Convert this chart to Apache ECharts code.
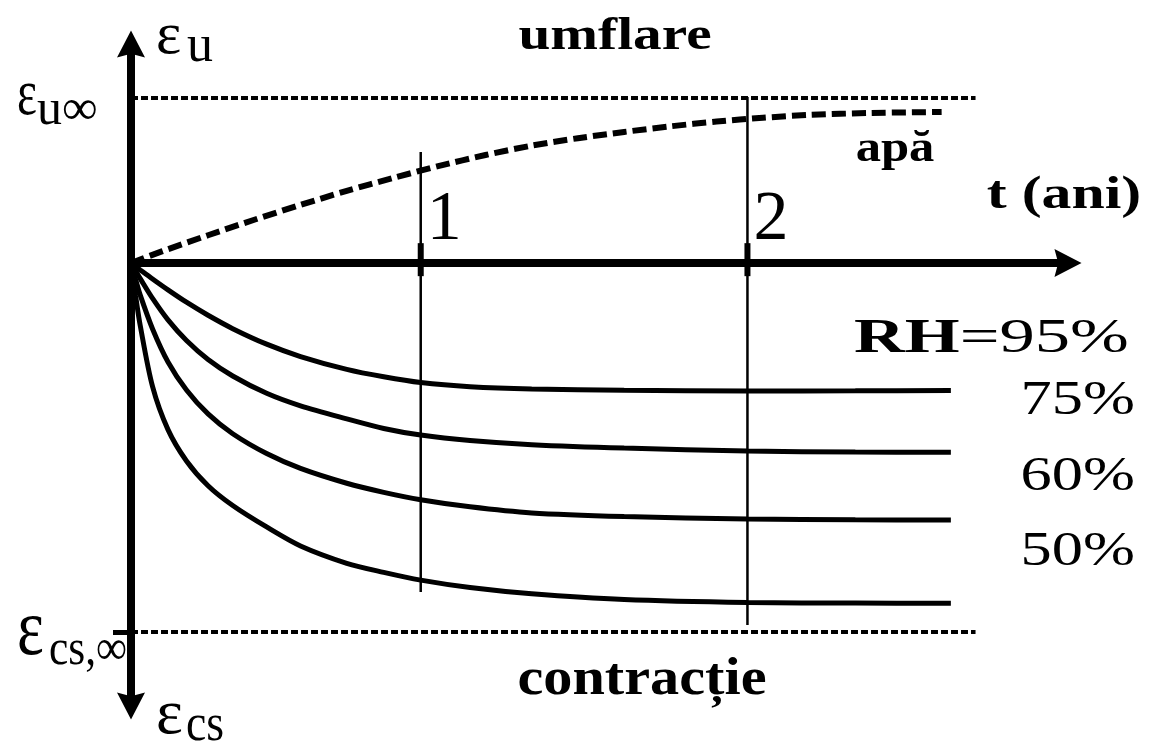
<!DOCTYPE html>
<html>
<head>
<meta charset="utf-8">
<script src="https://cdn.jsdelivr.net/npm/echarts@6/dist/echarts.min.js"></script>
<style>
  html, body { margin: 0; padding: 0; background: #fff; }
  #chart { width: 1153px; height: 747px; }
</style>
</head>
<body>
<div id="chart"></div>
<script>
// Time in years; strain normalised so that the swelling limit εu∞ equals 1.
// Shrinkage curves (contracție) sampled on a common time grid.
const shrinkT = [0, 0.015, 0.03, 0.07, 0.12, 0.18, 0.25, 0.33, 0.44, 0.55, 0.7, 0.82, 0.94, 1.1, 1.3, 1.6, 2.0, 2.35, 2.66];
const rh95 = [0, -0.021, -0.042, -0.097, -0.163, -0.238, -0.317, -0.398, -0.492, -0.567, -0.645, -0.690, -0.725, -0.750, -0.764, -0.772, -0.776, -0.775, -0.773];
const rh75 = [0, -0.048, -0.095, -0.215, -0.345, -0.470, -0.585, -0.685, -0.790, -0.866, -0.945, -1.003, -1.043, -1.076, -1.101, -1.122, -1.140, -1.146, -1.147];
const rh60 = [0, -0.100, -0.195, -0.400, -0.600, -0.770, -0.915, -1.035, -1.155, -1.245, -1.335, -1.390, -1.435, -1.478, -1.515, -1.537, -1.552, -1.557, -1.558];
const rh50 = [0, -0.200, -0.380, -0.750, -1.010, -1.200, -1.350, -1.470, -1.600, -1.715, -1.820, -1.875, -1.922, -1.967, -2.005, -2.040, -2.058, -2.061, -2.062];
const rhNames = ['95%', '75%', '60%', '50%'];

// Swelling in water (apă)
const swellT = [0, 0.1, 0.25, 0.4, 0.55, 0.7, 0.85, 1.0, 1.15, 1.3, 1.45, 1.6, 1.75, 1.9, 2.05, 2.2, 2.4, 2.63];
const swellY = [0, 0.070, 0.168, 0.262, 0.352, 0.437, 0.515, 0.588, 0.654, 0.711, 0.756, 0.794, 0.828, 0.857, 0.880, 0.897, 0.909, 0.915];

// Limit strains and the extent of their reference lines
const uInf = 1.0;
const csInf = -2.236;
const limitEnd = 2.74;

// Year markers on the time axis
const yearMarkT = [0.94, 2.0];
const yearMarkLabels = ['1', '2'];
const yearMarkTop = [0.673, 1.006];
const yearMarkBottom = [-1.994, -2.194];

const FONT = '"Liberation Serif", "Times New Roman", Times, serif';
const zip = (xs, ys) => xs.map((x, i) => [x, ys[i]]);
const arrow = 'path://M15,0 L30,29 L15,25 L0,29 Z';

const series = [];

// dotted limit lines
[uInf, csInf].forEach(v => series.push({
  type: 'line', data: [[0, v], [limitEnd, v]], symbol: 'none', silent: true, z: 1,
  lineStyle: { color: '#000', width: 4, type: [7, 3] }
}));

// year marker lines with a heavier stub across the axis
yearMarkT.forEach((t, i) => {
  series.push({
    type: 'line', data: [[t, yearMarkTop[i]], [t, yearMarkBottom[i]]], symbol: 'none', silent: true, z: 1,
    lineStyle: { color: '#000', width: 2.5 }
  });
  series.push({
    type: 'line', data: [[t, 0.12], [t, -0.08]], symbol: 'none', silent: true, z: 1,
    lineStyle: { color: '#000', width: 6 }
  });
});

// swelling curve
series.push({
  type: 'line', name: 'apă', data: zip(swellT, swellY), symbol: 'none', smooth: 0.3, z: 3,
  lineStyle: { color: '#000', width: 6, type: [14, 6] }
});

// shrinkage curves
const shrinkSets = [rh95, rh75, rh60, rh50];
shrinkSets.forEach((vals, i) => series.push({
  type: 'line', name: rhNames[i], data: zip(shrinkT, vals), symbol: 'none', smooth: 0.3, z: 3,
  lineStyle: { color: '#000', width: 5 }
}));

const option = {
  animation: false,
  backgroundColor: '#fff',
  grid: { left: 131, right: 85, top: 44, bottom: 41, containLabel: false },
  xAxis: {
    type: 'value', min: 0, max: 3.04,
    axisLine: { show: true, onZero: true, symbol: ['none', arrow], symbolSize: [28, 29], lineStyle: { color: '#000', width: 8 } },
    axisTick: { show: false }, axisLabel: { show: false }, splitLine: { show: false }
  },
  yAxis: {
    type: 'value', min: -2.685, max: 1.327,
    axisLine: { show: true, onZero: false, symbol: [arrow, arrow], symbolSize: [28, 29], lineStyle: { color: '#000', width: 8 } },
    axisTick: { show: true, customValues: [csInf], length: 18, lineStyle: { color: '#000', width: 5 } },
    axisLabel: { show: false }, splitLine: { show: false }
  },
  series
};

const chart = echarts.init(document.getElementById('chart'));
chart.setOption(option);

const px = (t, y) => chart.convertToPixel({ xAxisIndex: 0, yAxisIndex: 0 }, [t, y]);

function txt(x, y, text, size, o = {}) {
  return {
    type: 'text', x, y, scaleX: o.scaleX || 1, z: 10, silent: true,
    style: {
      text, fill: '#000', fontFamily: FONT, fontSize: size,
      fontWeight: o.bold ? 'bold' : 'normal',
      align: o.align || 'left', verticalAlign: 'middle',
      rich: o.rich
    }
  };
}

const graphics = [
  txt(615, 37, 'umflare', 47, { bold: true, align: 'center', scaleX: 1.22 }),
  txt(895, 150, 'apă', 44, { bold: true, align: 'center', scaleX: 1.15 }),
  txt(1064, 196, 't (ani)', 46, { bold: true, align: 'center', scaleX: 1.3 }),
  txt(642, 681, 'contracție', 52, { bold: true, align: 'center', scaleX: 1.12 }),
  // axis symbols
  txt(156, 37, 'ε', 60),
  txt(187, 47, 'u', 52),
  txt(17, 97, 'ε', 66, { scaleX: 0.72 }),
  txt(37, 111, 'u∞', 50),
  txt(17, 633, 'ε', 80, { scaleX: 0.8 }),
  txt(49, 651, 'cs,∞', 50, { scaleX: 0.87 }),
  txt(156, 716, 'ε', 64),
  txt(186, 726, 'cs', 52, { scaleX: 0.88 })
];

// year labels beside their markers
yearMarkT.forEach((t, i) => {
  const p = px(t, 0);
  graphics.push(txt(p[0] + 6, p[1] - 42, yearMarkLabels[i], 70));
});

// relative humidity labels above the curve ends
const labelDy = [-51, -51, -43, -51];
shrinkSets.forEach((vals, i) => {
  const p = px(shrinkT[shrinkT.length - 1], vals[vals.length - 1]);
  if (i === 0) {
    graphics.push(txt(p[0] + 178, p[1] + labelDy[i], '{b|RH}=' + rhNames[i], 48,
      { align: 'right', scaleX: 1.47, rich: { b: { fontWeight: 'bold', fontFamily: FONT, fontSize: 48 } } }));
  } else {
    graphics.push(txt(p[0] + 184, p[1] + labelDy[i], rhNames[i], 48, { align: 'right', scaleX: 1.3 }));
  }
});

chart.setOption({ graphic: graphics });
</script>
</body>
</html>
